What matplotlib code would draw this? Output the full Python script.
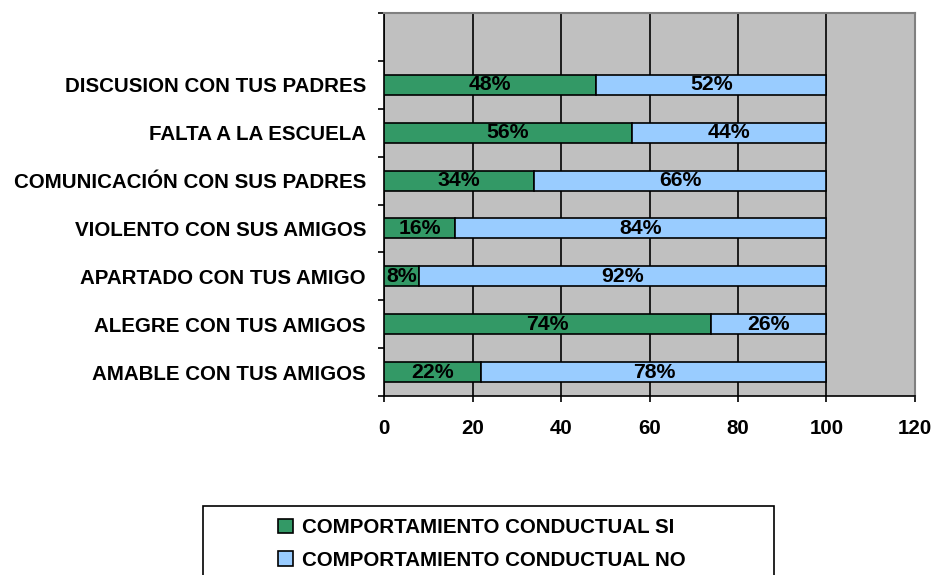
import matplotlib
matplotlib.use("Agg")
import matplotlib.pyplot as plt
from matplotlib.patches import Rectangle, Patch
from matplotlib.ticker import MultipleLocator, FixedLocator

# datos (de abajo hacia arriba)
categorias = [
    "AMABLE CON TUS AMIGOS",
    "ALEGRE CON TUS AMIGOS",
    "APARTADO CON TUS AMIGO",
    "VIOLENTO CON SUS AMIGOS",
    "COMUNICACIÓN CON SUS PADRES",
    "FALTA A LA ESCUELA",
    "DISCUSION CON TUS PADRES",
]
si = [22, 74, 8, 16, 34, 56, 48]
no = [78, 26, 92, 84, 66, 44, 52]
series = ["COMPORTAMIENTO CONDUCTUAL SI", "COMPORTAMIENTO CONDUCTUAL NO"]

verde = "#339966"
azul = "#99CCFF"

plt.rcParams["font.family"] = ["Liberation Sans", "DejaVu Sans"]
plt.rcParams["font.weight"] = "bold"
fs = 14.8

fig = plt.figure(figsize=(9.35, 5.75), dpi=100)
ax = fig.add_axes([384 / 935, 1 - 396 / 575, (915 - 384) / 935, (396 - 13) / 575])
ax.set_facecolor("#C0C0C0")

y = list(range(len(categorias)))
h = 0.42
ax.barh(y, si, height=h, color=verde, edgecolor="black", linewidth=1.2, zorder=3)
ax.barh(y, no, left=si, height=h, color=azul, edgecolor="black", linewidth=1.2, zorder=3)

for yi, a, b in zip(y, si, no):
    ax.text(a / 2, yi, f"{a}%", ha="center", va="center", fontsize=fs + 0.5,
            fontweight="bold", zorder=4)
    ax.text(a + b / 2, yi, f"{b}%", ha="center", va="center", fontsize=fs + 0.5,
            fontweight="bold", zorder=4)

ax.set_xlim(0, 120)
ax.set_ylim(-0.5, 7.5)
ax.xaxis.set_major_locator(MultipleLocator(20))
ax.grid(axis="x", color="black", linewidth=1.2, zorder=1)
ax.set_axisbelow(True)

ax.set_yticks(y)
ax.set_yticklabels(categorias, fontsize=fs, fontweight="bold")
ax.yaxis.set_minor_locator(FixedLocator([i - 0.5 for i in range(9)]))
ax.tick_params(axis="y", which="major", length=0, pad=13)
ax.tick_params(axis="y", which="minor", length=4.5, width=1.2, direction="out")
ax.tick_params(axis="x", length=4.5, width=1.2, direction="out", pad=12,
               labelsize=fs)
for lab in ax.get_xticklabels():
    lab.set_fontweight("bold")

for s in ("left", "bottom"):
    ax.spines[s].set_color("black")
    ax.spines[s].set_linewidth(1.2)
for s in ("top", "right"):
    ax.spines[s].set_color("#808080")
    ax.spines[s].set_linewidth(1.5)

# recuadro de la leyenda
fig.patches.append(Rectangle((203 / 935, -0.05), (774 - 203) / 935, 0.05 + (575 - 506) / 575,
                             transform=fig.transFigure, facecolor="white",
                             edgecolor="black", linewidth=1.2, zorder=0))
handles = [Patch(facecolor=verde, edgecolor="black", linewidth=1.2),
           Patch(facecolor=azul, edgecolor="black", linewidth=1.2)]
fig.legend(handles, series, loc="center", bbox_to_anchor=(482 / 935, 1 - 544 / 575),
           frameon=False, prop={"size": fs, "weight": "bold"},
           handlelength=0.7, handleheight=0.7, handletextpad=0.45,
           labelspacing=0.65, borderpad=0)

fig.savefig("out.png", dpi=100)
